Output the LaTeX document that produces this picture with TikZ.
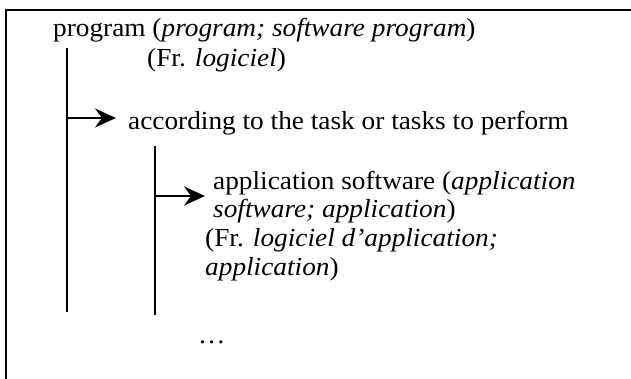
\documentclass[tikz,border=0pt]{standalone}
\usepackage{fontspec}
\setmainfont{Liberation Serif}[FakeStretch=1.05]
\usetikzlibrary{arrows.meta}
\begin{document}
\begin{tikzpicture}[x=1pt,y=-1pt,
  txt/.style={anchor=base west, inner sep=0pt, font=\fontsize{26}{28}\selectfont},
  frame/.style={line width=2.5pt},
  trunk/.style={line width=1.3pt},
  branch/.style={line width=1.3pt, -{Stealth[length=21pt,width=19pt,inset=7pt]}}]
\useasboundingbox (0,0) rectangle (631,379);
% open frame
\coordinate (ftr) at (631,10);
\coordinate (ftl) at (6,10);
\coordinate (fbl) at (6,379);
\draw[frame] (ftr) -- (ftl) -- (fbl);
% texts
\node[txt] (prog) at (53,37) {program (\textit{program; software program})};
\node[txt] (progfr) at (147,67) {(Fr. \textit{logiciel})};
\node[txt] (acc) at (128,130) {according to the task or tasks to perform};
\node[txt] (app1) at (213,190) {application software (\textit{application}};
\node[txt] (app2) at (213,218) {\textit{software; application})};
\node[txt] (fr1) at (205,247) {(Fr. \textit{logiciel d’application;}};
\node[txt] (fr2) at (205,275) {\textit{application})};
\node[txt] (dots) at (198,343) {…};
% trunks
\coordinate (t1top) at (67,48);
\coordinate (t1bot) at (67,312);
\coordinate (t2top) at (155,146);
\coordinate (t2bot) at (155,315);
\draw[trunk] (t1top) -- (t1bot);
\draw[trunk] (t2top) -- (t2bot);
% branches
\coordinate (b1s) at (67,118);
\coordinate (b1e) at (116,118);
\coordinate (b2s) at (155,196);
\coordinate (b2e) at (205,196);
\draw[branch] (b1s) -- (b1e);
\draw[branch] (b2s) -- (b2e);
\end{tikzpicture}
\end{document}
